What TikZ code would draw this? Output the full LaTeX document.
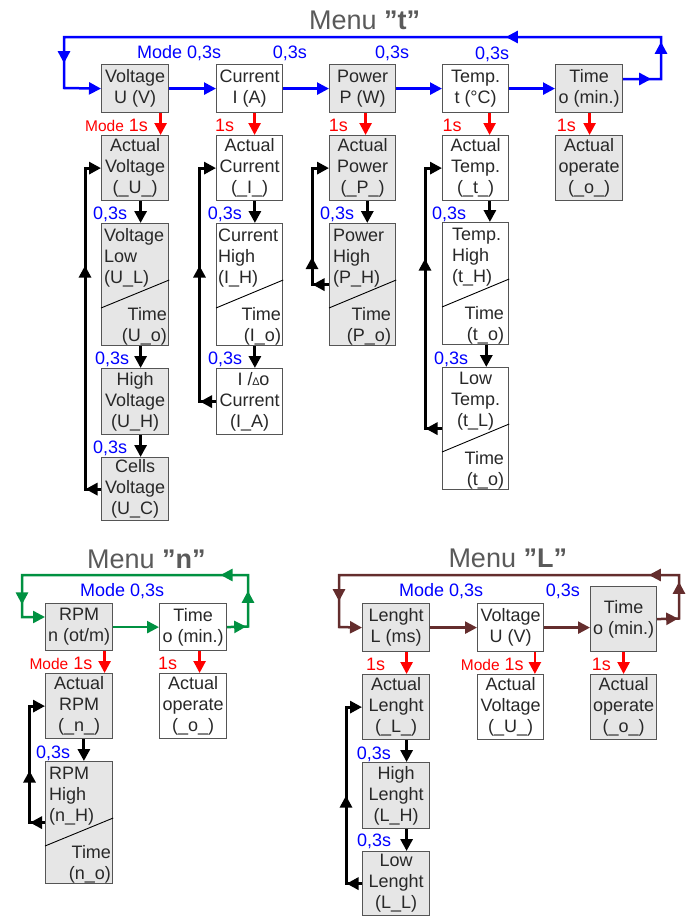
\documentclass[tikz,border=0pt]{standalone}
\usepackage{fontspec}
\setmainfont{Liberation Sans}
\usetikzlibrary{arrows.meta,calc,decorations.markings}
\definecolor{bcol}{RGB}{85,85,85}
\definecolor{gfill}{RGB}{230,230,230}
\definecolor{tcol}{RGB}{40,40,40}
\definecolor{ttlcol}{RGB}{90,90,90}
\definecolor{cblue}{RGB}{0,0,255}
\definecolor{cred}{RGB}{255,0,0}
\definecolor{cgreen}{RGB}{0,145,65}
\definecolor{cbrown}{RGB}{100,45,45}
\newcommand\bxfont{\fontsize{18}{21}\selectfont}
\newcommand\mdfont{\fontsize{15.5}{16}\selectfont}
\newcommand\ttlfont{\fontsize{27}{30}\selectfont}
\newcommand\trifont{\fontsize{11}{11}\selectfont}
\newcommand\qd{\symbol{34}}
\begin{document}
\begin{tikzpicture}[x=1pt,y=-1pt,
 >={Triangle[length=12pt,width=12pt]},
 box/.style={draw=bcol,line width=1.2pt,inner sep=0pt,anchor=north west,align=center,font=\bxfont,text=tcol},
 gb/.style={box,fill=gfill},
 wb/.style={box,fill=white},
 tlt/.style={inner sep=0pt,anchor=north west,align=left,font=\bxfont,text=tcol},
 tct/.style={inner sep=0pt,anchor=north,align=center,font=\bxfont,text=tcol},
 brt/.style={inner sep=0pt,anchor=south east,align=right,font=\bxfont,text=tcol},
 diag/.style={draw=black,line width=0.9pt},
 blab/.style={inner sep=0pt,anchor=base west,font=\bxfont,text=cblue},
 rlab/.style={inner sep=0pt,anchor=base west,font=\bxfont,text=cred},
 ttl/.style={inner sep=0pt,anchor=base west,font=\ttlfont,text=ttlcol},
 bline/.style={draw=cblue,line width=2.5pt},
 gline/.style={draw=cgreen,line width=2.5pt},
 nline/.style={draw=cbrown,line width=2.5pt},
 rline/.style={draw=cred,line width=2.5pt,->},
 kline/.style={draw=black,line width=3pt},
 karr/.style={draw=black,line width=3pt,->},
]
\useasboundingbox (0,0) rectangle (692,916);

% ================= Menu t =================
\node[ttl] (ttlT) at (309,29.3) {Menu \textbf{\qd t\qd}};

\node[gb,minimum width=67pt,minimum height=48pt] (tV) at (101,64) {Voltage\\U (V)};
\node[wb,minimum width=66pt,minimum height=48pt] (tI) at (216,64) {Current\\I (A)};
\node[gb,minimum width=66pt,minimum height=48pt] (tP) at (329,64) {Power\\P (W)};
\node[wb,minimum width=66pt,minimum height=48pt] (tT) at (442,64) {Temp.\\t (°C)};
\node[gb,minimum width=67pt,minimum height=48pt] (tO) at (555,64) {Time\\o (min.)};

\node[gb,minimum width=67pt,minimum height=65pt] (aV) at (101,135) {Actual\\Voltage\\(\_U\_)};
\node[wb,minimum width=66pt,minimum height=65pt] (aI) at (216,135) {Actual\\Current\\(\_I\_)};
\node[gb,minimum width=66pt,minimum height=65pt] (aP) at (329,135) {Actual\\Power\\(\_P\_)};
\node[wb,minimum width=66pt,minimum height=65pt] (aT) at (442,135) {Actual\\Temp.\\(\_t\_)};
\node[gb,minimum width=67pt,minimum height=65pt] (aO) at (555,135) {Actual\\operate\\(\_o\_)};

\node[gb,minimum width=67pt,minimum height=122pt] (lV) at (101,223) {};
\node[wb,minimum width=66pt,minimum height=122pt] (hI) at (216,223) {};
\node[gb,minimum width=66pt,minimum height=122pt] (hP) at (329,223) {};
\node[wb,minimum width=66pt,minimum height=122pt] (hT) at (442,222) {};
\foreach \n in {lV,hI,hP,hT}{
  \draw[diag] ($(\n.north west)+(0,85)$) -- ($(\n.north east)+(0,57)$);
}
\node[tlt] (lVa) at ($(lV.north west)+(3,5.5)$) {Voltage\\Low\\(U\_L)};
\node[brt] (lVb) at ($(lV.south east)+(-2,-1)$) {Time\\(U\_o)};
\node[tlt] (hIa) at ($(hI.north west)+(2,5.5)$) {Current\\High\\(I\_H)};
\node[brt] (hIb) at ($(hI.south east)+(-2,-1)$) {Time\\(I\_o)};
\node[tlt] (hPa) at ($(hP.north west)+(4,5.5)$) {Power\\High\\(P\_H)};
\node[brt] (hPb) at ($(hP.south east)+(-5,-1)$) {Time\\(P\_o)};
\node[tlt] (hTa) at ($(hT.north west)+(10,5.5)$) {Temp.\\High\\(t\_H)};
\node[brt] (hTb) at ($(hT.south east)+(-5,-1)$) {Time\\(t\_o)};

\node[gb,minimum width=67pt,minimum height=66pt] (hV) at (101,368) {High\\Voltage\\(U\_H)};
\node[wb,minimum width=66pt,minimum height=66pt] (iA) at (216,368) {\hspace*{8pt}I /{\trifont ∆}o\\Current\\(I\_A)};
\node[wb,minimum width=66pt,minimum height=122pt] (lT) at (442,367) {};
\draw[diag] ($(lT.north west)+(0,85)$) -- ($(lT.north east)+(0,57)$);
\node[tct] (lTa) at ($(lT.north)+(0,5)$) {Low\\Temp.\\(t\_L)};
\node[brt] (lTb) at ($(lT.south east)+(-5,-1)$) {Time\\(t\_o)};

\node[gb,minimum width=67pt,minimum height=63pt] (cV) at (101,457) {Cells\\Voltage\\(U\_C)};

% horizontal blue connectors
\draw[bline,->] (tV.east) -- (tI.west);
\draw[bline,->] (tI.east) -- (tP.west);
\draw[bline,->] (tP.east) -- (tT.west);
\draw[bline,->] (tT.east) -- (tO.west);
% blue loop
\coordinate (bt1) at (661,79);
\coordinate (bt2) at (661,37);
\coordinate (bt3) at (64,37);
\coordinate (bt4) at (64,88);
\draw[bline,->,postaction={decorate,decoration={markings,
  mark=at position 28pt with {\arrow{>}},
  mark=at position 75pt with {\arrow{>}},
  mark=at position 235pt with {\arrow{>}},
  mark=at position 703pt with {\arrow{>}}}}]
  (tO.east |- bt1) -- (bt1) -- (bt2) -- (bt3) -- (bt4) -- (tV.west);

% red connectors
\draw[rline] ([xshift=25.5pt]tV.south) -- ([xshift=25.5pt]aV.north);
\draw[rline] ([xshift=5pt]tI.south) -- ([xshift=5pt]aI.north);
\draw[rline] ([xshift=3pt]tP.south) -- ([xshift=3pt]aP.north);
\draw[rline] ([xshift=14pt]tT.south) -- ([xshift=14pt]aT.north);
\draw[rline] ([xshift=0.5pt]tO.south) -- ([xshift=0.5pt]aO.north);

% black down connectors
\draw[karr] ([xshift=5.5pt]aV.south) -- ([xshift=5.5pt]lV.north);
\draw[karr] ([xshift=5.5pt]lV.south) -- ([xshift=5.5pt]hV.north);
\draw[karr] ([xshift=5.5pt]hV.south) -- ([xshift=5.5pt]cV.north);
\draw[karr] ([xshift=5.3pt]aI.south) -- ([xshift=5.3pt]hI.north);
\draw[karr] ([xshift=5.3pt]hI.south) -- ([xshift=5.3pt]iA.north);
\draw[karr] ([xshift=4.7pt]aP.south) -- ([xshift=4.7pt]hP.north);
\draw[karr] ([xshift=14.3pt]aT.south) -- ([xshift=14.3pt]hT.north);
\draw[karr] ([xshift=10.7pt]hT.south) -- ([xshift=10.7pt]lT.north);

% black loops
\coordinate (kx1) at (85,0);
\coordinate (kx2) at (199.5,0);
\coordinate (kx3) at (312,0);
\coordinate (kx4) at (425,0);
\draw[kline,->,postaction={decorate,decoration={markings,
  mark=at position 15.5pt with {\arrow{>}},
  mark=at position 239.5pt with {\arrow{>}}}}]
  (cV.west) -- (cV.west -| kx1) -- (aV.west -| kx1) -- (aV.west);
\draw[kline,->,postaction={decorate,decoration={markings,
  mark=at position 16pt with {\arrow{>}},
  mark=at position 152.5pt with {\arrow{>}}}}]
  (iA.west) -- (iA.west -| kx2) -- (aI.west -| kx2) -- (aI.west);
\draw[kline,->,postaction={decorate,decoration={markings,
  mark=at position 16.5pt with {\arrow{>}},
  mark=at position 44.5pt with {\arrow{>}}}}]
  (hP.west) -- (hP.west -| kx3) -- (aP.west -| kx3) -- (aP.west);
\draw[kline,->,postaction={decorate,decoration={markings,
  mark=at position 16.5pt with {\arrow{>}},
  mark=at position 187pt with {\arrow{>}}}}]
  (lT.west) -- (lT.west -| kx4) -- (aT.west -| kx4) -- (aT.west);

% labels menu t
\node[blab] (m1) at (137,58.2) {Mode 0,3s};
\node[blab] (m2) at (272.7,58.2) {0,3s};
\node[blab] (m3) at (375,58.5) {0,3s};
\node[blab] (m4) at (475,59.8) {0,3s};
\node[rlab] (r1) at (85,131.5) {{\mdfont Mode} 1s};
\node[rlab] (r2) at (215,131.5) {1s};
\node[rlab] (r3) at (328.7,131.5) {1s};
\node[rlab] (r4) at (442.3,131.5) {1s};
\node[rlab] (r5) at (556.7,131.5) {1s};
\node[blab] (s1) at (93,219.5) {0,3s};
\node[blab] (s2) at (95,364.5) {0,3s};
\node[blab] (s3) at (93,453.2) {0,3s};
\node[blab] (s4) at (207.7,219.5) {0,3s};
\node[blab] (s5) at (208,364.5) {0,3s};
\node[blab] (s6) at (320,219.5) {0,3s};
\node[blab] (s7) at (432,219.2) {0,3s};
\node[blab] (s8) at (434,364.5) {0,3s};

% ================= Menu n =================
\node[ttl] (ttlN) at (87,568) {Menu \textbf{\qd n\qd}};
\node[gb,minimum width=67pt,minimum height=47pt] (nR) at (45,603) {RPM\\n (ot/m)};
\node[wb,minimum width=67pt,minimum height=47pt] (nT) at (159,603) {Time\\o (min.)};
\node[gb,minimum width=67pt,minimum height=65pt] (aR) at (45,673) {Actual\\RPM\\(\_n\_)};
\node[wb,minimum width=67pt,minimum height=65pt] (aOn) at (159,673) {Actual\\operate\\(\_o\_)};
\node[gb,minimum width=67pt,minimum height=122pt] (hR) at (45,761) {};
\draw[diag] ($(hR.north west)+(0,85)$) -- ($(hR.north east)+(0,57)$);
\node[tlt] (hRa) at ($(hR.north west)+(4,5.5)$) {RPM\\High\\(n\_H)};
\node[brt] (hRb) at ($(hR.south east)+(-2,-1)$) {Time\\(n\_o)};

\draw[gline,->] (nR.east) -- (nT.west);
\coordinate (g1) at (248,626.5);
\coordinate (g2) at (248,575);
\coordinate (g3) at (22,575);
\coordinate (g4) at (22,617);
\draw[gline,->,postaction={decorate,decoration={markings,
  mark=at position 19pt with {\arrow{>}},
  mark=at position 56.5pt with {\arrow{>}},
  mark=at position 99.8pt with {\arrow{>}},
  mark=at position 327.8pt with {\arrow{>}}}}]
  (nT.east) -- (g1) -- (g2) -- (g3) -- (g4) -- (nR.west |- g4);
\draw[rline] ([xshift=25.5pt]nR.south) -- ([xshift=25.5pt]aR.north);
\draw[rline] ([xshift=6.5pt]nT.south) -- ([xshift=6.5pt]aOn.north);
\draw[karr] ([xshift=4.8pt]aR.south) -- ([xshift=4.8pt]hR.north);
\coordinate (kx5) at (29.5,0);
\draw[kline,->,postaction={decorate,decoration={markings,
  mark=at position 15pt with {\arrow{>}},
  mark=at position 67.5pt with {\arrow{>}}}}]
  (hR.west) -- (hR.west -| kx5) -- (aR.west -| kx5) -- (aR.west);

\node[blab] (n1) at (80,596.5) {Mode 0,3s};
\node[rlab] (n2) at (29.3,669.5) {{\mdfont Mode} 1s};
\node[rlab] (n3) at (158,669.5) {1s};
\node[blab] (n4) at (36,758.2) {0,3s};

% ================= Menu L =================
\node[ttl] (ttlL) at (448.3,567) {Menu \textbf{\qd L\qd}};
\node[gb,minimum width=67pt,minimum height=48pt] (LL) at (362,603) {Lenght\\L (ms)};
\node[wb,minimum width=66pt,minimum height=48pt] (LV) at (477,603) {Voltage\\U (V)};
\node[gb,minimum width=66pt,minimum height=65pt] (LT) at (590,586) {Time\\o (min.)};
\node[gb,minimum width=67pt,minimum height=65pt] (LaL) at (362,674) {Actual\\Lenght\\(\_L\_)};
\node[wb,minimum width=66pt,minimum height=65pt] (LaV) at (477,674) {Actual\\Voltage\\(\_U\_)};
\node[gb,minimum width=66pt,minimum height=65pt] (LaO) at (590,674) {Actual\\operate\\(\_o\_)};
\node[gb,minimum width=67pt,minimum height=66pt] (LhL) at (362,762) {High\\Lenght\\(L\_H)};
\node[gb,minimum width=67pt,minimum height=64pt] (LlL) at (362,851) {Low\\Lenght\\(L\_L)};

\draw[nline,->] (LL.east) -- (LV.west);
\draw[nline,->] (LV.east) -- (LV.east -| LT.west);
\coordinate (c1) at (679,618.5);
\coordinate (c2) at (679,575);
\coordinate (c3) at (339,575);
\coordinate (c4) at (339,627);
\draw[nline,->,postaction={decorate,decoration={markings,
  mark=at position 21pt with {\arrow{>}},
  mark=at position 58.5pt with {\arrow{>}},
  mark=at position 95.5pt with {\arrow{>}},
  mark=at position 431.5pt with {\arrow{>}}}}]
  (LT.east) -- (c1) -- (c2) -- (c3) -- (c4) -- (LL.west);
\draw[rline] ([xshift=10.5pt]LL.south) -- ([xshift=10.5pt]LaL.north);
\draw[rline] ([xshift=24.3pt]LV.south) -- ([xshift=24.3pt]LaV.north);
\draw[rline] ([xshift=0pt]LT.south) -- ([xshift=0pt]LaO.north);
\draw[karr] ([xshift=10.5pt]LaL.south) -- ([xshift=10.5pt]LhL.north);
\draw[karr] ([xshift=10.5pt]LhL.south) -- ([xshift=10.5pt]LlL.north);
\coordinate (kx6) at (346,0);
\draw[kline,->,postaction={decorate,decoration={markings,
  mark=at position 15.5pt with {\arrow{>}},
  mark=at position 104pt with {\arrow{>}}}}]
  (LlL.west) -- (LlL.west -| kx6) -- (LaL.west -| kx6) -- (LaL.west);

\node[blab] (L1) at (399,596.5) {Mode 0,3s};
\node[blab] (L2) at (545.7,596.5) {0,3s};
\node[rlab] (L3) at (366,670.5) {1s};
\node[rlab] (L4) at (460.7,670.5) {{\mdfont Mode} 1s};
\node[rlab] (L5) at (591.7,670.5) {1s};
\node[blab] (L6) at (356.7,759.2) {0,3s};
\node[blab] (L7) at (357,846.5) {0,3s};
\end{tikzpicture}
\end{document}
